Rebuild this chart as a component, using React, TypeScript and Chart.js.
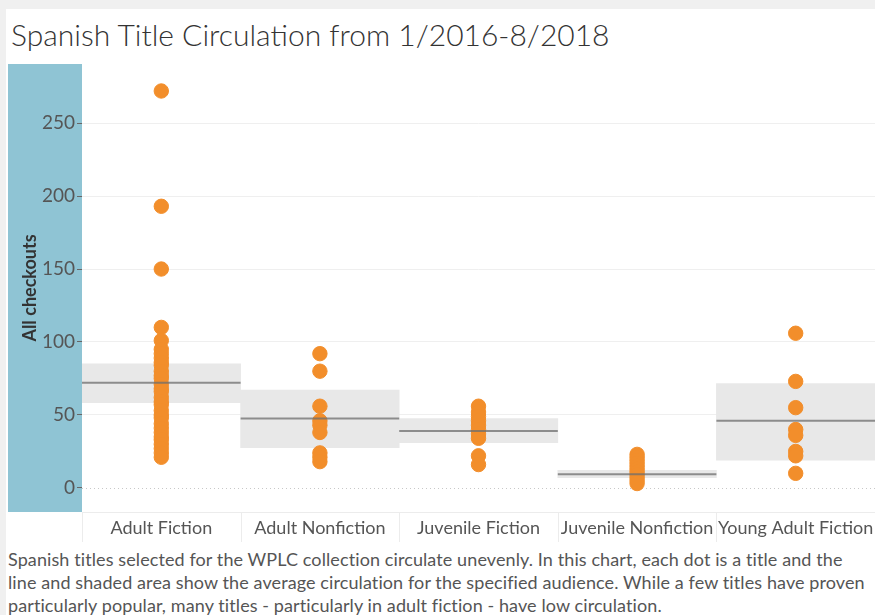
import React, { useEffect, useRef } from "react";
import { Chart, registerables } from "chart.js";

Chart.register(...registerables);

const categories = [
  "Adult Fiction",
  "Adult Nonfiction",
  "Juvenile Fiction",
  "Juvenile Nonfiction",
  "Young Adult Fiction",
];

const adultFiction = [272, 193, 150, 110, 101, 95, 92, 89, 86, 84, 80, 77, 75, 71, 68, 66, 62, 59, 57, 53, 50, 48, 44, 41, 38, 35, 33, 30, 27, 24, 21];
const adultNonfiction = [92, 80, 56, 46, 43, 38, 24, 21, 18];
const juvenileFiction = [56, 52, 49, 46, 43, 40, 37, 34, 22, 16];
const juvenileNonfiction = [23, 21, 19, 17, 15, 13, 11, 9, 7, 5, 3];
const youngAdultFiction = [106, 73, 55, 40, 36, 25, 22, 10];

const averages = [72, 47.5, 39, 9.4, 46];
const bandLow = [58.5, 27.5, 31, 7, 19];
const bandHigh = [85, 67, 47.5, 12, 71.5];

const yTicks = [0, 50, 100, 150, 200, 250];

const titleText = "Spanish Title Circulation from 1/2016-8/2018";
const captionLines = [
  "Spanish titles selected for the WPLC collection circulate unevenly. In this chart, each dot is a title and the",
  "line and shaded area show the average circulation for the specified audience. While a few titles have proven",
  "particularly popular, many titles - particularly in adult fiction - have low circulation.",
];

const FONT = "Lato, 'Noto Sans', sans-serif";

export default function App() {
  const canvasRef = useRef<HTMLCanvasElement | null>(null);

  useEffect(() => {
    if (!canvasRef.current) return;
    const series = [adultFiction, adultNonfiction, juvenileFiction, juvenileNonfiction, youngAdultFiction];
    const points: { x: string; y: number }[] = [];
    series.forEach((vals, i) => vals.forEach((v) => points.push({ x: categories[i], y: v })));

    const decor = {
      id: "decor",
      beforeDraw(chart: any) {
        const { ctx, chartArea } = chart;
        ctx.save();
        ctx.fillStyle = "#8fc4d4";
        ctx.fillRect(0, chartArea.top, chartArea.left, chartArea.bottom - chartArea.top);
        ctx.restore();
      },
      beforeDatasetsDraw(chart: any) {
        const { ctx, chartArea, scales } = chart;
        const xs = scales.x;
        const ys = scales.y;
        const half = (chartArea.right - chartArea.left) / categories.length / 2;
        ctx.save();
        const y0 = ys.getPixelForValue(0);
        ctx.strokeStyle = "#c8c8c8";
        ctx.lineWidth = 1;
        ctx.setLineDash([1, 3]);
        ctx.beginPath();
        ctx.moveTo(chartArea.left, Math.round(y0) + 0.5);
        ctx.lineTo(chartArea.right, Math.round(y0) + 0.5);
        ctx.stroke();
        ctx.setLineDash([]);
        ctx.strokeStyle = "#ececec";
        categories.forEach((_, i) => {
          const cx = xs.getPixelForValue(i);
          [cx - half, cx + half].forEach((bx) => {
            ctx.beginPath();
            ctx.moveTo(Math.round(bx) + 0.5, chartArea.bottom);
            ctx.lineTo(Math.round(bx) + 0.5, chartArea.bottom + 30);
            ctx.stroke();
          });
        });
        ctx.restore();
      },
      afterDatasetsDraw(chart: any) {
        const { ctx, chartArea, scales } = chart;
        const xs = scales.x;
        const ys = scales.y;
        const half = (chartArea.right - chartArea.left) / categories.length / 2;
        ctx.save();
        ctx.strokeStyle = "rgba(110,110,110,0.75)";
        ctx.lineWidth = 2;
        averages.forEach((m, i) => {
          const cx = xs.getPixelForValue(i);
          const y = ys.getPixelForValue(m);
          ctx.beginPath();
          ctx.moveTo(cx - half, y);
          ctx.lineTo(cx + half, y);
          ctx.stroke();
        });
        ctx.restore();
      },
    };

    const chart = new Chart(canvasRef.current, {
      type: "bar",
      data: {
        labels: categories,
        datasets: [
          {
            type: "scatter" as any,
            data: points as any,
            backgroundColor: "#f28e2b",
            borderColor: "#f28e2b",
            borderWidth: 1,
            pointRadius: 7.2,
            order: 1,
          } as any,
          {
            type: "bar",
            data: bandLow.map((l, i) => [l, bandHigh[i]]) as any,
            backgroundColor: "#e8e8e8",
            borderWidth: 0,
            barPercentage: 1,
            categoryPercentage: 1,
            order: 2,
          },
        ],
      },
      options: {
        animation: false,
        responsive: false,
        devicePixelRatio: 1,
        layout: { autoPadding: false, padding: { top: 8, left: 0, right: 0, bottom: 0 } },
        plugins: {
          legend: { display: false },
          tooltip: { enabled: false },
          title: { display: false },
        },
        scales: {
          x: {
            type: "category",
            labels: categories,
            offset: true,
            grid: { display: false, drawTicks: false },
            border: { display: true, color: "#ececec" },
            ticks: {
              padding: 5,
              color: "#555555",
              font: { family: FONT, size: 18 },
              maxRotation: 0,
              autoSkip: false,
            },
            afterFit: (s: any) => {
              s.height = 34;
              s.paddingLeft = 0;
              s.paddingRight = 0;
            },
          },
          y: {
            type: "linear",
            min: -16.5,
            max: 290.5,
            afterBuildTicks: (s: any) => {
              s.ticks = yTicks.map((v) => ({ value: v }));
            },
            grid: {
              color: (c: any) => (c.tick && c.tick.value === 0 ? "rgba(0,0,0,0)" : "#efefef"),
              tickColor: "#666666",
              tickLength: 5,
              drawTicks: true,
            },
            border: { display: false },
            ticks: {
              padding: 2,
              color: "#555555",
              font: { family: FONT, size: 19 },
            },
            title: {
              display: true,
              text: "All checkouts",
              color: "#333333",
              font: { family: FONT, size: 18, weight: "bold" },
              padding: { top: 11, bottom: 0 },
            },
            afterFit: (s: any) => {
              s.width = 74;
              s.paddingTop = 0;
              s.paddingBottom = 0;
            },
          },
        },
      },
      plugins: [decor],
    });
    return () => chart.destroy();
  }, []);

  return (
    <div style={{ position: "fixed", left: 0, top: 0, width: 875, height: 615, background: "#f0f0f0", overflow: "hidden" }}>
      <div style={{ position: "absolute", left: 6, top: 9, width: 869, height: 606, background: "#ffffff" }} />
      <div
        style={{
          position: "absolute",
          left: 11,
          top: 14,
          fontFamily: FONT,
          fontWeight: 300,
          fontSize: 30,
          lineHeight: "40px",
          color: "#333333",
          whiteSpace: "nowrap",
        }}
      >
        {titleText}
      </div>
      <canvas
        ref={canvasRef}
        width={867}
        height={490}
        style={{ position: "absolute", left: 8, top: 56, width: 867, height: 490, display: "block" }}
      />
      <div
        style={{
          position: "absolute",
          left: 8,
          top: 548,
          width: 867,
          fontFamily: FONT,
          fontSize: 18,
          lineHeight: "23px",
          letterSpacing: "0.1px",
          color: "#555555",
          whiteSpace: "nowrap",
        }}
      >
        {captionLines.map((l, i) => (
          <div key={i}>{l}</div>
        ))}
      </div>
    </div>
  );
}
